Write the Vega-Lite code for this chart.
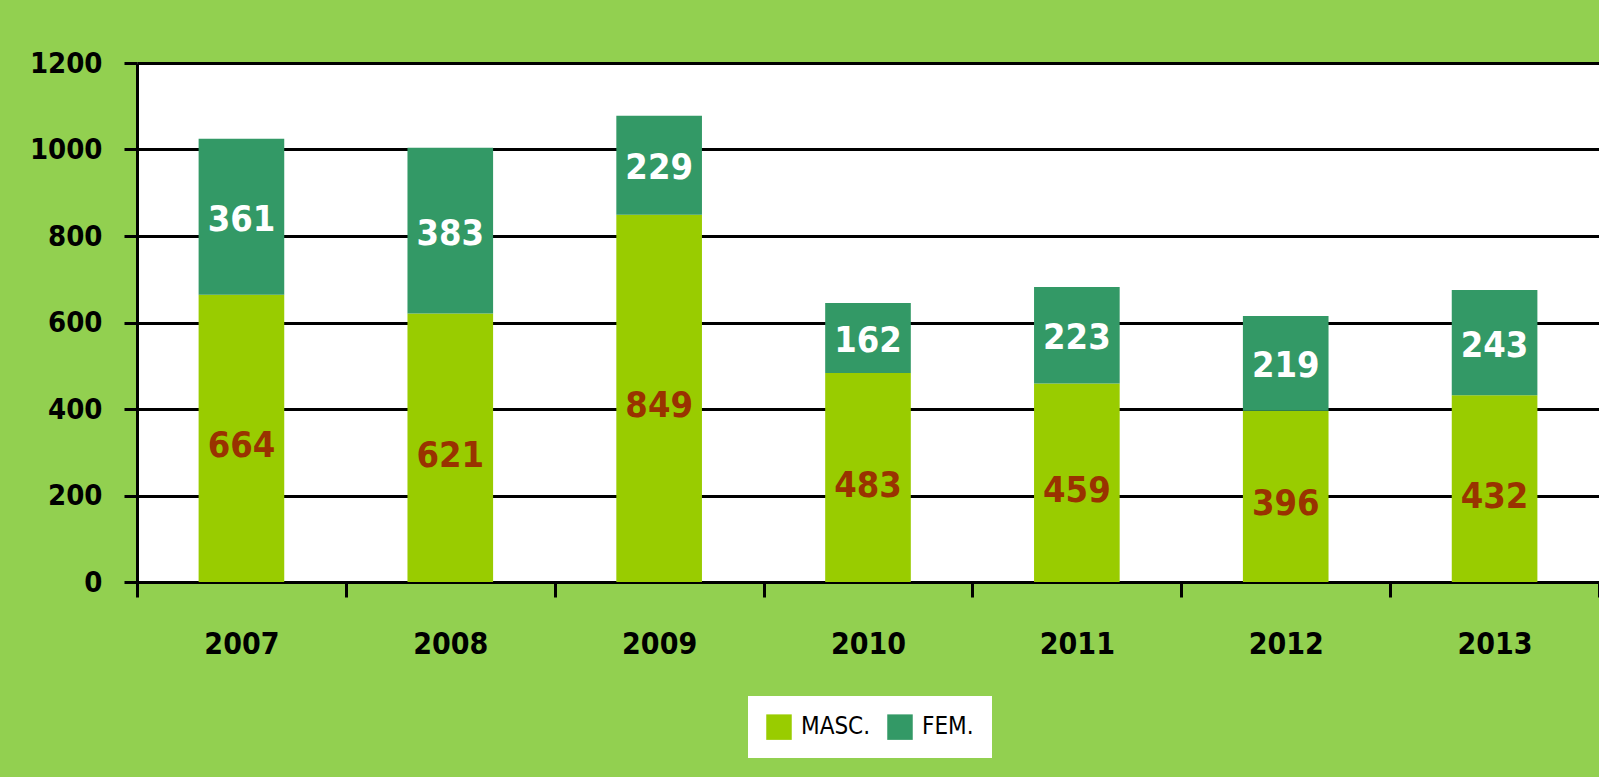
{
  "$schema": "https://vega.github.io/schema/vega-lite/v6.json",
  "width": 1462,
  "height": 519,
  "autosize": {"type": "none"},
  "padding": {"left": 137, "top": 63, "right": 0, "bottom": 195},
  "background": "#92D050",
  "config": {
    "view": {"fill": "white", "stroke": null},
    "font": "'DejaVu Sans Condensed', 'Liberation Sans', sans-serif"
  },
  "data": {
    "values": [
      {"year": "2007", "sexo": "MASC.", "n": 664},
      {"year": "2007", "sexo": "FEM.", "n": 361},
      {"year": "2008", "sexo": "MASC.", "n": 621},
      {"year": "2008", "sexo": "FEM.", "n": 383},
      {"year": "2009", "sexo": "MASC.", "n": 849},
      {"year": "2009", "sexo": "FEM.", "n": 229},
      {"year": "2010", "sexo": "MASC.", "n": 483},
      {"year": "2010", "sexo": "FEM.", "n": 162},
      {"year": "2011", "sexo": "MASC.", "n": 459},
      {"year": "2011", "sexo": "FEM.", "n": 223},
      {"year": "2012", "sexo": "MASC.", "n": 396},
      {"year": "2012", "sexo": "FEM.", "n": 219},
      {"year": "2013", "sexo": "MASC.", "n": 432},
      {"year": "2013", "sexo": "FEM.", "n": 243}
    ]
  },
  "transform": [
    {"calculate": "datum.sexo === 'MASC.' ? 0 : 1", "as": "ord"},
    {"stack": "n", "groupby": ["year"], "sort": [{"field": "ord", "order": "ascending"}], "as": ["y0", "y1"]},
    {"calculate": "(datum.y0 + datum.y1) / 2", "as": "ymid"}
  ],
  "encoding": {
    "x": {
      "field": "year",
      "type": "nominal",
      "scale": {"paddingInner": 0, "paddingOuter": 0},
      "axis": {
        "title": null,
        "labelAngle": 0,
        "labelFontSize": 30,
        "labelFontWeight": "bold",
        "labelColor": "black",
        "labelPadding": 32,
        "domainColor": "black",
        "domainWidth": 3,
        "tickColor": "black",
        "tickWidth": 3,
        "tickSize": 15,
        "tickBand": "extent"
      }
    }
  },
  "layer": [
    {
      "mark": {"type": "bar", "width": {"band": 0.41}},
      "encoding": {
        "y": {
          "field": "y0",
          "type": "quantitative",
          "scale": {"domain": [0, 1200]},
          "axis": {
            "title": null,
            "values": [0, 200, 400, 600, 800, 1000, 1200],
            "format": "d",
            "labelFontSize": 29,
            "labelFontWeight": "bold",
            "labelColor": "black",
            "labelPadding": 22,
            "domainColor": "black",
            "domainWidth": 3,
            "tickColor": "black",
            "tickWidth": 3,
            "tickSize": 13,
            "grid": true,
            "gridColor": "black",
            "gridWidth": 3,
            "gridOpacity": 1
          }
        },
        "y2": {"field": "y1"},
        "color": {
          "field": "sexo",
          "type": "nominal",
          "sort": ["MASC.", "FEM."],
          "scale": {"domain": ["MASC.", "FEM."], "range": ["#99CC00", "#339966"]},
          "legend": {
            "title": null,
            "orient": "none",
            "direction": "horizontal",
            "legendX": 611,
            "legendY": 633,
            "fillColor": "white",
            "padding": 18,
            "symbolType": "square",
            "symbolSize": 650,
            "symbolStrokeWidth": 0,
            "symbolOpacity": 1,
            "labelFontSize": 24,
            "labelColor": "black",
            "labelOffset": 9,
            "columnPadding": 16
          }
        }
      }
    },
    {
      "transform": [{"filter": "datum.sexo === 'MASC.'"}],
      "mark": {"type": "text", "fontSize": 36, "fontWeight": "bold", "baseline": "middle", "dy": 8, "color": "#993300"},
      "encoding": {
        "y": {"field": "ymid", "type": "quantitative"},
        "text": {"field": "n", "type": "quantitative"}
      }
    },
    {
      "transform": [{"filter": "datum.sexo === 'FEM.'"}],
      "mark": {"type": "text", "fontSize": 36, "fontWeight": "bold", "baseline": "middle", "dy": 3, "color": "white"},
      "encoding": {
        "y": {"field": "ymid", "type": "quantitative"},
        "text": {"field": "n", "type": "quantitative"}
      }
    }
  ]
}
